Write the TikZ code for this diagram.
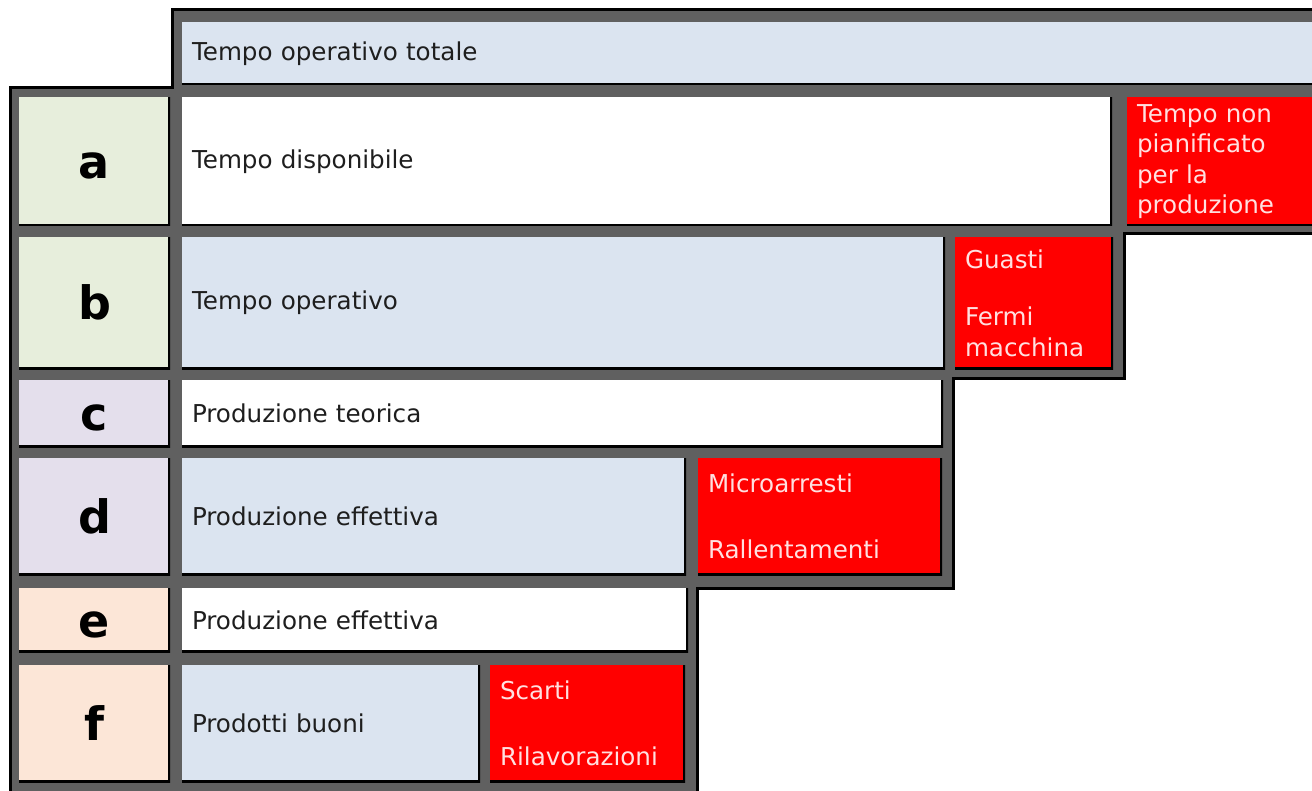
\documentclass[tikz,border=0pt]{standalone}
\usepackage{fontspec}
\setmainfont{DejaVu Sans}
\usepackage{tikz}
\usepackage{xcolor}
\definecolor{cellblue}{RGB}{219,228,240}
\definecolor{labgreen}{RGB}{231,238,220}
\definecolor{labviolet}{RGB}{228,223,236}
\definecolor{labpeach}{RGB}{252,230,215}
\definecolor{gridgray}{RGB}{96,96,96}
\definecolor{lossred}{RGB}{255,0,0}
\definecolor{inkdark}{RGB}{30,30,30}

\begin{document}
\begin{tikzpicture}[x=0.5pt, y=-0.5pt,
    cell/.style 2 args={anchor=north west, inner sep=0pt, inner xsep=5pt, outer sep=0pt,
        minimum width=#1, minimum height=#2, text width=#1-10pt, align=left,
        font=\fontsize{12.3}{15.3}\selectfont, text=inkdark,
        path picture={\draw[black, line width=2.2pt] (path picture bounding box.north east)
            -- (path picture bounding box.south east) -- (path picture bounding box.south west);}},
    letter/.style={align=center, text height=17pt, text depth=0pt,
        font=\fontsize{23}{28}\selectfont\bfseries, text=black},
    loss/.style={fill=lossred, text=white!88!red}]
    \path[use as bounding box, clip] (0,0) rectangle (1312,791);

    % Gray frame
    \filldraw[fill=gridgray, draw=black, line width=1.5pt] (172,10) -- (1330,10) -- (1330,234)
        -- (1124,234) -- (1124,378) -- (953,378) -- (953,588) -- (697,588) -- (697,800)
        -- (10,800) -- (10,88) -- (172,88) -- cycle;

    % Top row
    \node[cell={574pt}{31.5pt}, fill=cellblue] (tot) at (182,22) {Tempo operativo totale};

    % Row a
    \node[cell={75.5pt}{64.5pt}, fill=labgreen, letter] (la) at (19,97) {a};
    \node[cell={465pt}{64.5pt}, fill=white] (disp) at (182,97) {Tempo disponibile};
    \node[cell={101.5pt}{64.5pt}, loss] (tnp) at (1127,97) {Tempo non\\pianificato\\per la\\produzione};

    % Row b
    \node[cell={75.5pt}{66pt}, fill=labgreen, letter] (lb) at (19,237) {b};
    \node[cell={381.5pt}{66pt}, fill=cellblue] (oper) at (182,237) {Tempo operativo};
    \node[cell={79pt}{66pt}, loss] (guasti) at (955,237) {Guasti\\[13.5pt]Fermi\\macchina};

    % Row c
    \node[cell={75.5pt}{33.5pt}, fill=labviolet, letter] (lc) at (19,380) {c};
    \node[cell={380.5pt}{33.5pt}, fill=white] (teor) at (182,380) {Produzione teorica};

    % Row d
    \node[cell={75.5pt}{58.5pt}, fill=labviolet, letter] (ld) at (19,458) {d};
    \node[cell={252pt}{58.5pt}, fill=cellblue] (eff) at (182,458) {Produzione effettiva};
    \node[cell={122pt}{58.5pt}, loss] (micro) at (698,458) {Microarresti\\[17.5pt]Rallentamenti};

    % Row e
    \node[cell={75.5pt}{32pt}, fill=labpeach, letter] (le) at (19,588) {e};
    \node[cell={253pt}{32pt}, fill=white] (effb) at (182,588) {Produzione effettiva};

    % Row f
    \node[cell={75.5pt}{58.5pt}, fill=labpeach, letter] (lf) at (19,665) {f};
    \node[cell={149pt}{58.5pt}, fill=cellblue] (buoni) at (182,665) {Prodotti buoni};
    \node[cell={97.5pt}{58.5pt}, loss] (scarti) at (490,665) {Scarti\\[17.5pt]Rilavorazioni};
\end{tikzpicture}
\end{document}
